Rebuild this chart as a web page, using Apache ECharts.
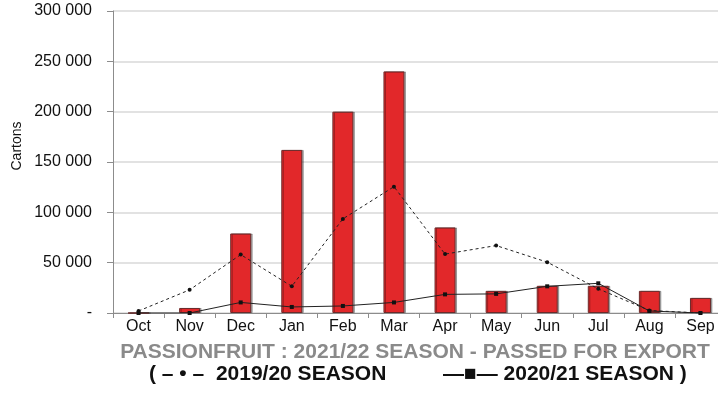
<!DOCTYPE html>
<html><head><meta charset="utf-8">
<script src="https://cdn.jsdelivr.net/npm/echarts@6/dist/echarts.min.js"></script>
<style>html,body{margin:0;padding:0;background:#fff}#c{width:718px;height:397px}</style>
</head><body><div id="c"></div>
<script>
const months = ['Oct','Nov','Dec','Jan','Feb','Mar','Apr','May','Jun','Jul','Aug','Sep'];
const season2122 = [0, 5000, 79000, 162000, 200000, 240000, 85000, 22000, 27000, 27000, 22000, 15000];
const season1920 = [2000, 23000, 58000, 26500, 93500, 125500, 58500, 67000, 50500, 24000, 2500, 0];
const season2021 = [0, 0, 10500, 6000, 7000, 10500, 18500, 19000, 26500, 29500, 2000, 0];
const yTicks = [0, 50000, 100000, 150000, 200000, 250000, 300000];
const yAxisName = 'Cartons';
const titleText = 'PASSIONFRUIT : 2021/22 SEASON - PASSED FOR EXPORT';
const legendText1 = '( \u2013 \u2022 \u2013  2019/20 SEASON';
const legendText2 = '\u2014\u25A0\u2014 2020/21 SEASON )';

const chart = echarts.init(document.getElementById('c'));
const fmt = v => v === 0 ? '-' : String(v).replace(/\B(?=(\d{3})+(?!\d))/g, ' ');
const font = 'Liberation Sans, Arial, sans-serif';
chart.setOption({
  animation: false,
  textStyle: {fontFamily: font},
  grid: {left: 113, top: 11, right: -8, bottom: 84, outerBoundsMode: 'none', containLabel: false},
  xAxis: {
    type: 'category', data: months,
    axisLine: {lineStyle: {color: '#8c8c8c', width: 1}},
    axisTick: {show: true, length: 5, lineStyle: {color: '#8c8c8c'}},
    axisLabel: {color: '#111', fontSize: 16, margin: 6}
  },
  yAxis: {
    type: 'value', min: yTicks[0], max: yTicks[yTicks.length - 1], interval: 50000,
    axisLine: {show: true, lineStyle: {color: '#8c8c8c', width: 1}},
    axisTick: {show: true, length: 6, lineStyle: {color: '#8c8c8c'}},
    axisLabel: {color: '#111', fontSize: 16, margin: 21, formatter: fmt},
    splitLine: {lineStyle: {color: '#d9d9d9', width: 1.5}}
  },
  graphic: [
    {type: 'text', x: 17, y: 146, rotation: Math.PI / 2,
      style: {text: yAxisName, fill: '#111', font: '14px "Liberation Sans", Arial, sans-serif', textAlign: 'center', textVerticalAlign: 'middle'}},
    {type: 'text', x: 415, y: 352, style: {text: titleText, fill: '#8a8a8a', textAlign: 'center', textVerticalAlign: 'middle', font: 'bold 21px "Liberation Sans", Arial, sans-serif'}},
    {type: 'text', x: 149, y: 374, style: {text: legendText1, fill: '#111', textVerticalAlign: 'middle', font: 'bold 21px "Liberation Sans", Arial, sans-serif'}},
    {type: 'text', x: 443, y: 374, style: {text: legendText2, fill: '#111', textVerticalAlign: 'middle', font: 'bold 21px "Liberation Sans", Arial, sans-serif'}}
  ],
  series: [
    {
      name: '2021/22 SEASON', type: 'bar', data: season2122, barWidth: 21, z: 1,
      itemStyle: {color: '#E2282A', borderColor: '#6b2b2b', borderWidth: 1,
        shadowColor: 'rgba(0,0,0,0.3)', shadowOffsetX: 1.5, shadowBlur: 0}
    },
    {
      name: '2019/20 SEASON', type: 'line', data: season1920, z: 3,
      symbol: 'circle', symbolSize: 4,
      lineStyle: {color: '#222', width: 1, type: [3, 3]},
      itemStyle: {color: '#111'}
    },
    {
      name: '2020/21 SEASON', type: 'line', data: season2021, z: 3,
      symbol: 'rect', symbolSize: 4,
      lineStyle: {color: '#222', width: 1},
      itemStyle: {color: '#111'}
    }
  ]
});
</script></body></html>
